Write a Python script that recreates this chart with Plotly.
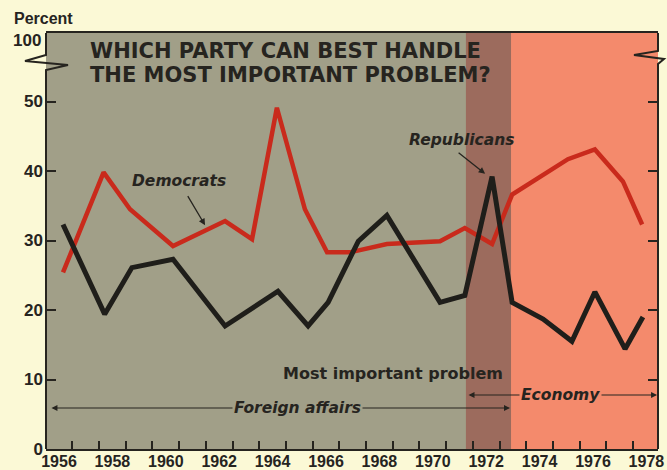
import plotly.graph_objects as go

# ---------------- data ----------------
dem_x = [1956.15, 1957.67, 1958.66, 1960.27, 1962.22, 1963.23, 1964.16, 1965.21, 1966.04,
         1966.90, 1968.28, 1970.27, 1971.20, 1972.22, 1972.97, 1975.06, 1976.07, 1977.12, 1977.84]
dem_y = [25.4, 39.8, 34.5, 29.2, 32.8, 30.2, 49.1, 34.5, 28.3,
         28.3, 29.5, 29.9, 31.8, 29.5, 36.6, 41.7, 43.1, 38.5, 32.3]

rep_x = [1956.15, 1957.71, 1958.73, 1960.27, 1962.22, 1964.20, 1965.33, 1966.08, 1967.21,
         1968.28, 1970.27, 1971.20, 1972.22, 1972.97, 1974.13, 1975.21, 1976.07, 1977.20, 1977.87]
rep_y = [32.3, 19.4, 26.1, 27.3, 17.7, 22.7, 17.7, 21.1, 29.9,
         33.6, 21.1, 22.1, 39.2, 21.1, 18.7, 15.5, 22.6, 14.4, 19.0]

year_labels = list(range(1956, 1979, 2))
year_bounds = [y + 0.5 for y in range(1956, 1978)]
y_ticks = [0, 10, 20, 30, 40, 50]

foreign_span = (1955.66, 1972.89)
economy_span = (1971.28, 1978.40)
watergate_band = (1971.24, 1972.93)

# ---------------- styling ----------------
W, H = 667, 470
ML, MR, MT, MB = 46, 9, 33, 21
PH = H - MT - MB
PW = W - ML - MR
PX_PER_UNIT = 6.95
X_RANGE = [1955.513, 1978.434]
Y_TOP = PH / PX_PER_UNIT
Y_RANGE = [0, Y_TOP]

CREAM = "#fbf9d6"
GRAY = "#a19f88"
BAND = "#9c6b5d"
SALMON = "#f48a6c"
INK = "#26241f"
RED = "#c92a1c"
BLACK = "#1f1e1a"


def pxx(px):
    return (px - ML) / PW


def pxy(py):
    return (H - MB - py) / PX_PER_UNIT


def pyp(py):
    return (H - MB - py) / PH


fig = go.Figure()

fig.add_trace(go.Scatter(x=dem_x, y=dem_y, mode="lines", name="Democrats",
                         line=dict(color=RED, width=4.5), showlegend=False, hoverinfo="skip"))
fig.add_trace(go.Scatter(x=rep_x, y=rep_y, mode="lines", name="Republicans",
                         line=dict(color=BLACK, width=5), showlegend=False, hoverinfo="skip"))

shapes = [
    dict(type="rect", xref="x", yref="paper", x0=watergate_band[0], x1=watergate_band[1],
         y0=0, y1=1, fillcolor=BAND, line_width=0, layer="below"),
    dict(type="rect", xref="x", yref="paper", x0=watergate_band[1], x1=X_RANGE[1],
         y0=0, y1=1, fillcolor=SALMON, line_width=0, layer="below"),
]

# left / right axis lines with break symbol
lp = [(0, 1), (0, pyp(55)), (pxx(25), pyp(61)), (pxx(68), pyp(65)), (0, pyp(70)), (0, 0)]
rp = [(1, 1), (1, pyp(51)), (pxx(634), pyp(55)), (pxx(664), pyp(59)), (1, pyp(64)), (1, 0)]
for pts in (lp, rp):
    path = "M " + " L ".join(f"{a:.5f},{b:.5f}" for a, b in pts)
    shapes.append(dict(type="path", xref="paper", yref="paper", path=path,
                       line=dict(color=INK, width=2), layer="above"))

fig.update_layout(shapes=shapes)

ann = []
TITLE_FONT = dict(family="DejaVu Sans", size=21, color=INK, weight="bold")
ann.append(dict(text="WHICH PARTY CAN BEST HANDLE", x=pxx(88), y=pyp(51), xref="paper", yref="paper",
                xanchor="left", yanchor="middle", showarrow=False, font=TITLE_FONT))
ann.append(dict(text="THE MOST IMPORTANT PROBLEM?", x=pxx(88), y=pyp(75), xref="paper", yref="paper",
                xanchor="left", yanchor="middle", showarrow=False, font=TITLE_FONT))

LBL = dict(family="DejaVu Sans", size=15.5, color=INK, style="italic", weight=600)
# Democrats label and pointer
ann.append(dict(text="Democrats", x=1960.48, y=38.5, xref="x", yref="y", showarrow=False, font=LBL))
ann.append(dict(text="", x=1961.47, y=32.2, ax=1960.79, ay=36.6, xref="x", yref="y",
                axref="x", ayref="y", showarrow=True, arrowhead=2, arrowsize=1, arrowwidth=1.3,
                arrowcolor=INK))
# Republicans label and pointer
ann.append(dict(text="Republicans", x=1971.07, y=44.5, xref="x", yref="y", showarrow=False, font=LBL))
ann.append(dict(text="", x=1971.96, y=39.6, ax=1970.91, ay=42.8, xref="x", yref="y",
                axref="x", ayref="y", showarrow=True, arrowhead=2, arrowsize=1, arrowwidth=1.3,
                arrowcolor=INK))

# Most important problem
ann.append(dict(text="Most important problem", x=1968.51, y=pxy(373), xref="x", yref="y",
                showarrow=False, font=dict(family="DejaVu Sans", size=16, color=INK, weight="bold")))

# Foreign affairs span
fy = pxy(408)
ann.append(dict(text="", x=foreign_span[1], y=fy, ax=foreign_span[0], ay=fy, xref="x", yref="y",
                axref="x", ayref="y", showarrow=True, arrowhead=2, arrowside="end+start",
                arrowsize=1, arrowwidth=1.2, arrowcolor=INK))
ann.append(dict(text="Foreign affairs", x=1964.94, y=fy, xref="x", yref="y", showarrow=False,
                font=LBL, bgcolor=GRAY, borderpad=1))
# Economy span
ey = pxy(395)
ann.append(dict(text="", x=economy_span[1], y=ey, ax=economy_span[0], ay=ey, xref="x", yref="y",
                axref="x", ayref="y", showarrow=True, arrowhead=2, arrowside="end+start",
                arrowsize=1, arrowwidth=1.2, arrowcolor=INK))
ann.append(dict(text="Economy", x=1974.8, y=ey, xref="x", yref="y", showarrow=False,
                font=LBL, bgcolor=SALMON, borderpad=1))

TICKF = dict(family="Liberation Sans", size=17, color=INK, weight="bold")
XTICKF = dict(family="Liberation Sans", size=16, color=INK, weight="bold")
PCTF = dict(family="Liberation Sans", size=16, color=INK, weight="bold")
ann.append(dict(text="Percent", x=pxx(12), y=pyp(19), xref="paper", yref="paper", showarrow=False,
                xanchor="left", yanchor="middle", font=PCTF))
ann.append(dict(text="100", x=pxx(43), y=pyp(40), xref="paper", yref="paper", showarrow=False,
                xanchor="right", yanchor="middle", font=TICKF))

fig.update_layout(annotations=ann)

fig.update_xaxes(range=X_RANGE, tickmode="array", tickvals=year_labels,
                 ticktext=[str(y) for y in year_labels], ticks="", showgrid=False, zeroline=False,
                 showline=True, linecolor=INK, linewidth=2, mirror=True, automargin=False,
                 tickfont=XTICKF, ticklabelstandoff=-3,
                 minor=dict(tickmode="array", tickvals=year_bounds, ticks="inside", ticklen=8,
                            tickwidth=1.5, tickcolor=INK, showgrid=False))
fig.update_yaxes(range=Y_RANGE, tickmode="array", tickvals=y_ticks,
                 ticktext=[str(v) for v in y_ticks], ticks="inside", ticklen=10, tickwidth=2,
                 tickcolor=INK, mirror="ticks", showline=False, showgrid=False, zeroline=False,
                 automargin=False, tickfont=TICKF, ticklabelstandoff=2)

fig.update_layout(width=W, height=H, margin=dict(l=ML, r=MR, t=MT, b=MB, pad=0),
                  paper_bgcolor=CREAM, plot_bgcolor=GRAY, showlegend=False)

fig.write_html("out.html")
